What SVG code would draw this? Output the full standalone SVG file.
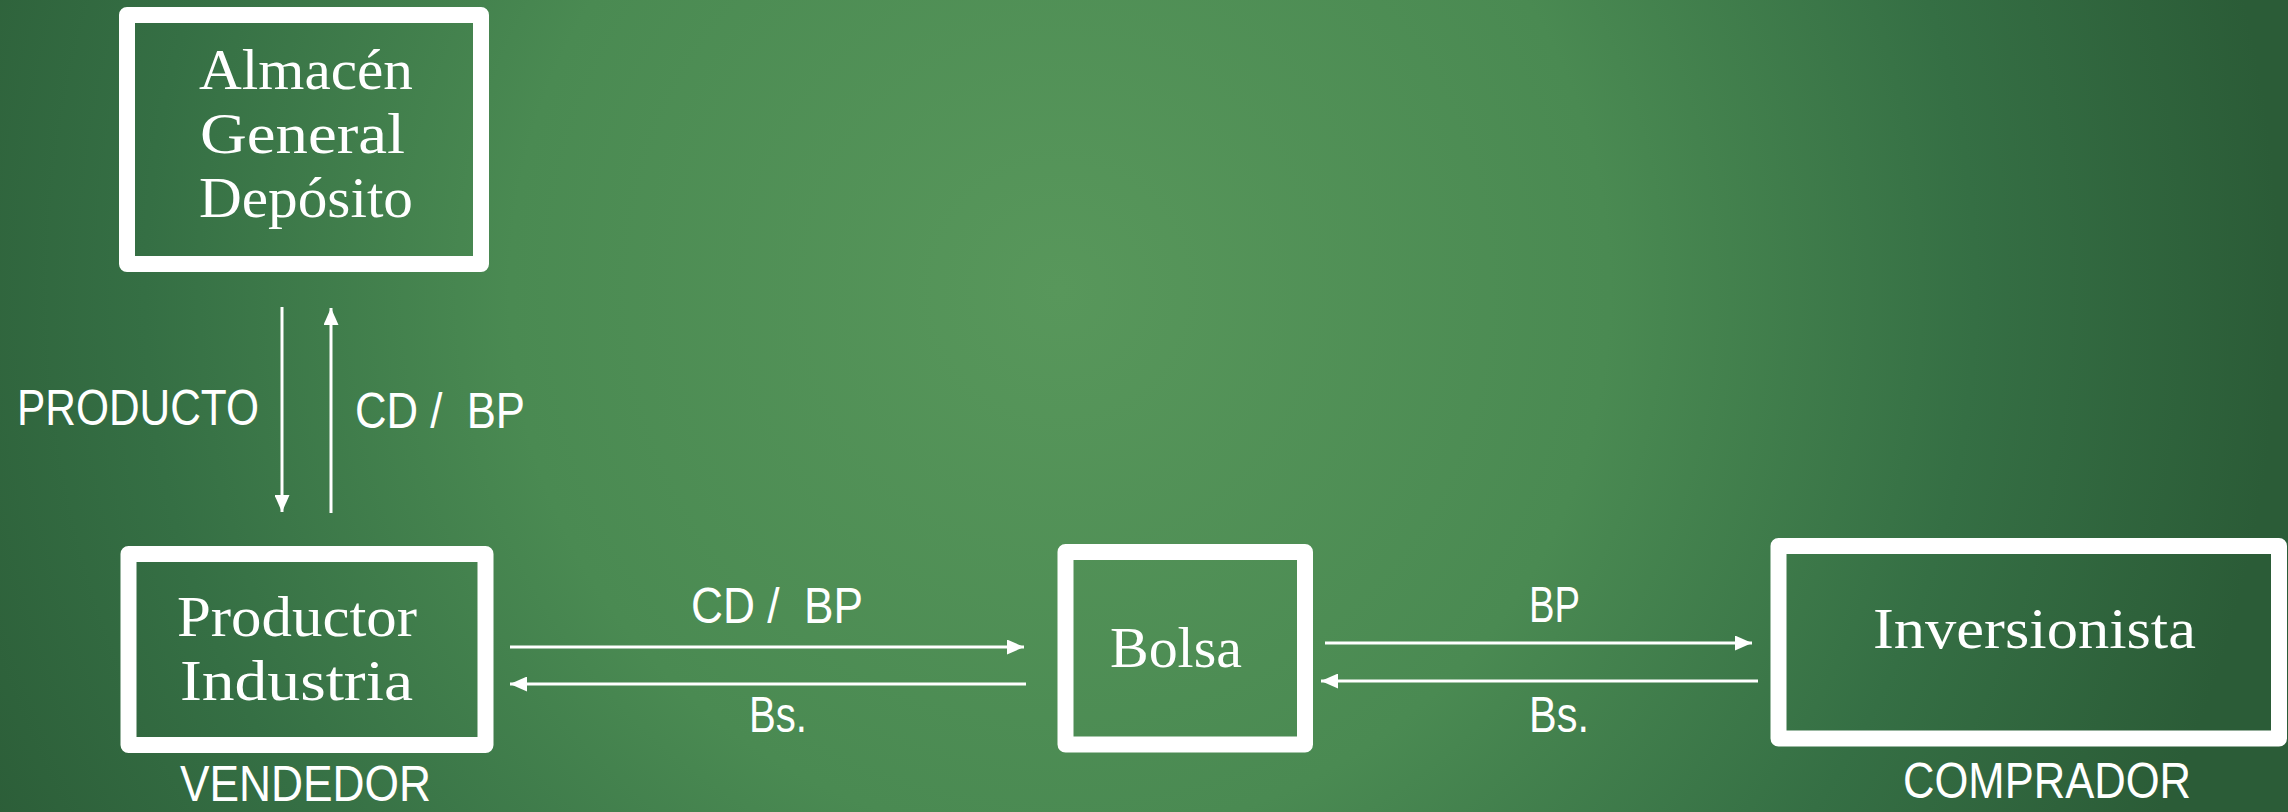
<svg xmlns="http://www.w3.org/2000/svg" width="2288" height="812" viewBox="0 0 2288 812">
<style>
.box{fill:none;stroke:#ffffff;stroke-width:16;stroke-linejoin:round}
.serif{font-family:"Liberation Serif","DejaVu Serif",serif;font-size:57px;fill:#ffffff}
.sans{font-family:"Liberation Sans","Open Sans",sans-serif;font-size:50px;fill:#ffffff}
.arr{stroke:#ffffff;stroke-width:3;fill:none;marker-end:url(#ah)}
</style>
<defs>
<radialGradient id="bg" gradientUnits="userSpaceOnUse" cx="1060" cy="290" r="1220">
<stop offset="0" stop-color="#58975b"/>
<stop offset="0.45" stop-color="#4a8a52"/>
<stop offset="0.75" stop-color="#356f44"/>
<stop offset="1" stop-color="#2b5c37"/>
</radialGradient>
<marker id="ah" markerUnits="userSpaceOnUse" markerWidth="17" markerHeight="15" refX="17" refY="7.5" orient="auto">
<path d="M0,0 L17,7.5 L0,15 z" fill="#ffffff"/>
</marker>
</defs>
<rect x="0" y="0" width="2288" height="812" fill="url(#bg)"/>

<g id="almacen">
<rect class="box" x="127" y="15" width="354" height="249"/>
<text class="serif" x="199" y="89" textLength="214" lengthAdjust="spacingAndGlyphs">Almacén</text>
<text class="serif" x="200" y="153" textLength="205" lengthAdjust="spacingAndGlyphs">General</text>
<text class="serif" x="199" y="217" textLength="214" lengthAdjust="spacingAndGlyphs">Depósito</text>
</g>

<g id="productor">
<rect class="box" x="128.5" y="554" width="357" height="191"/>
<text class="serif" x="177" y="636" textLength="240" lengthAdjust="spacingAndGlyphs">Productor</text>
<text class="serif" x="180" y="700" textLength="233" lengthAdjust="spacingAndGlyphs">Industria</text>
</g>
<g id="vendedor">
<text class="sans" x="180" y="801" font-size="48" textLength="251" lengthAdjust="spacingAndGlyphs">VENDEDOR</text>
</g>

<g id="bolsa">
<rect class="box" x="1065.5" y="552" width="239.5" height="192.5"/>
<text class="serif" x="1110" y="667" textLength="132" lengthAdjust="spacingAndGlyphs">Bolsa</text>
</g>

<g id="inversionista">
<rect class="box" x="1778.5" y="546" width="500.5" height="192.5"/>
<text class="serif" x="1873" y="648" textLength="323" lengthAdjust="spacingAndGlyphs">Inversionista</text>
</g>
<g id="comprador">
<text class="sans" x="1903" y="798" textLength="288" lengthAdjust="spacingAndGlyphs">COMPRADOR</text>
</g>

<g id="connectors">
<line class="arr" x1="282" y1="307" x2="282" y2="512"/>
<line class="arr" x1="331" y1="513" x2="331" y2="308"/>
<line class="arr" x1="510" y1="647" x2="1024" y2="647"/>
<line class="arr" x1="1026" y1="684" x2="510" y2="684"/>
<line class="arr" x1="1325" y1="643" x2="1752" y2="643"/>
<line class="arr" x1="1758" y1="681" x2="1321" y2="681"/>
<text class="sans" x="17" y="425" textLength="242" lengthAdjust="spacingAndGlyphs">PRODUCTO</text>
<text class="sans" x="355" y="428" textLength="170" lengthAdjust="spacingAndGlyphs" xml:space="preserve">CD /  BP</text>
<text class="sans" x="691" y="623" textLength="172" lengthAdjust="spacingAndGlyphs" xml:space="preserve">CD /  BP</text>
<text class="sans" x="749" y="732" textLength="58" lengthAdjust="spacingAndGlyphs">Bs.</text>
<text class="sans" x="1529" y="622" textLength="51" lengthAdjust="spacingAndGlyphs">BP</text>
<text class="sans" x="1529" y="732" textLength="60" lengthAdjust="spacingAndGlyphs">Bs.</text>
</g>
</svg>
